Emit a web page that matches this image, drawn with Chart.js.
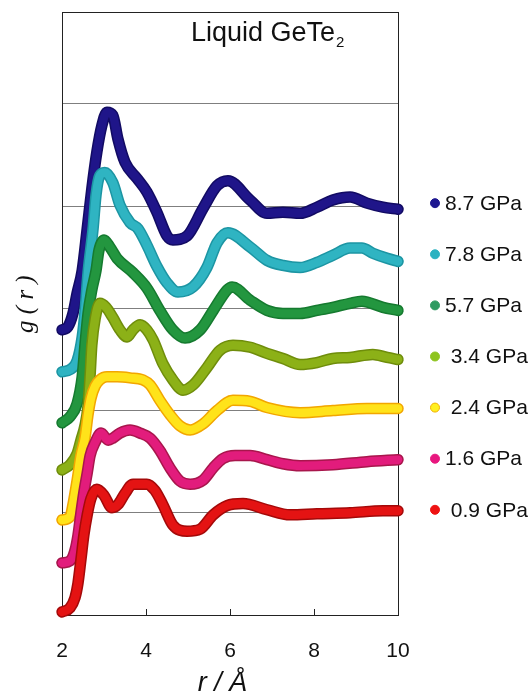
<!DOCTYPE html>
<html>
<head>
<meta charset="utf-8">
<script src="https://cdn.jsdelivr.net/npm/chart.js@4.4.0/dist/chart.umd.min.js"></script>
<style>
html,body{margin:0;padding:0;background:#fff;}
#wrap{width:529px;height:693px;position:relative;}
</style>
</head>
<body>
<div id="wrap"><canvas id="c" width="529" height="693"></canvas></div>
<script>
// ---------------- data ----------------
const seriesLabels = ['8.7 GPa', '7.8 GPa', '5.7 GPa', ' 3.4 GPa', ' 2.4 GPa', '1.6 GPa', ' 0.9 GPa'];
// vertical shift applied to each curve in the figure
const offsets = [3.0, 2.5, 2.0, 1.5, 1.0, 0.5, 0.0];
const xTicks = [2, 4, 6, 8, 10];
const yGridValues = [0, 1, 2, 3, 4, 5, 5.9];
const titleMain = 'Liquid GeTe';
const titleSub = '2';

// 8.7 GPa
const r_87 = [2.00,2.14,2.26,2.36,2.48,2.60,2.71,2.83,2.95,3.07,3.21,3.33,3.50,3.79,4.02,4.26,4.50,4.64,4.98,5.36,5.69,5.95,6.48,6.88,7.26,7.67,8.07,8.45,8.86,9.26,9.64,10.00];
const g_87 = [-0.21,-0.18,-0.05,0.15,0.37,0.78,1.17,1.53,1.79,1.92,1.89,1.66,1.43,1.27,1.14,0.94,0.71,0.67,0.71,0.98,1.20,1.25,1.06,0.93,0.94,0.93,0.99,1.06,1.09,1.03,0.99,0.97];
// 7.8 GPa
const r_78 = [2.00,2.19,2.36,2.48,2.55,2.62,2.74,2.81,2.90,3.02,3.21,3.38,3.62,3.81,4.02,4.26,4.50,4.76,5.12,5.45,5.69,5.95,6.48,6.88,7.26,7.67,8.07,8.45,8.86,9.14,9.40,9.74,10.00];
const g_78 = [-0.12,-0.10,-0.01,0.22,0.48,0.85,1.28,1.61,1.80,1.83,1.73,1.51,1.34,1.28,1.12,0.91,0.75,0.66,0.71,0.90,1.14,1.24,1.10,0.97,0.92,0.90,0.95,1.02,1.09,1.09,1.04,0.99,0.96];
// 5.7 GPa
const r_57 = [2.00,2.19,2.36,2.48,2.55,2.62,2.71,2.81,2.88,3.00,3.14,3.31,3.69,4.02,4.33,4.64,4.93,5.29,5.60,5.93,6.05,6.48,6.88,7.26,7.67,8.07,8.45,8.86,9.14,9.64,10.00];
const g_57 = [-0.12,-0.06,0.07,0.33,0.66,0.95,1.18,1.37,1.57,1.67,1.60,1.49,1.35,1.20,0.98,0.79,0.71,0.79,0.98,1.18,1.21,1.08,0.98,0.95,0.95,0.98,1.01,1.05,1.07,1.01,0.98];
// 3.4 GPa
const r_34 = [2.00,2.19,2.36,2.45,2.55,2.62,2.67,2.71,2.79,2.90,3.05,3.21,3.38,3.55,3.69,3.86,4.02,4.17,4.40,4.64,4.88,5.12,5.45,5.76,6.07,6.48,6.88,7.26,7.67,8.07,8.45,8.86,9.40,9.74,10.00];
const g_34 = [-0.08,-0.03,0.08,0.21,0.36,0.55,0.85,1.14,1.40,1.55,1.51,1.41,1.29,1.22,1.29,1.34,1.29,1.19,0.96,0.80,0.70,0.75,0.92,1.09,1.14,1.12,1.06,1.01,0.95,0.97,1.01,1.02,1.05,1.02,1.00];
// 2.4 GPa
const r_24 = [2.00,2.19,2.26,2.36,2.45,2.55,2.62,2.69,2.79,2.90,3.07,3.31,3.62,3.93,4.10,4.33,4.57,4.81,5.05,5.36,5.69,6.07,6.48,6.88,7.67,8.45,9.26,10.00];
const g_24 = [-0.07,-0.04,0.08,0.32,0.56,0.74,0.96,1.12,1.24,1.30,1.33,1.33,1.32,1.30,1.25,1.10,0.96,0.85,0.81,0.87,1.00,1.10,1.09,1.03,0.98,1.00,1.02,1.02];
// 1.6 GPa
const r_16 = [2.00,2.19,2.31,2.38,2.45,2.52,2.60,2.67,2.79,2.93,3.10,3.21,3.38,3.62,3.86,4.10,4.33,4.57,4.81,5.05,5.36,5.60,5.83,6.12,6.48,6.88,7.26,7.67,8.45,9.26,10.00];
const g_16 = [0.01,0.03,0.135,0.28,0.50,0.70,0.89,1.06,1.19,1.28,1.21,1.23,1.28,1.31,1.28,1.23,1.11,0.94,0.81,0.78,0.82,0.94,1.03,1.06,1.06,1.02,0.98,0.96,0.97,1.00,1.02];
// 0.9 GPa
const r_09 = [2.00,2.19,2.31,2.38,2.45,2.52,2.60,2.69,2.83,3.00,3.19,3.33,3.50,3.69,4.02,4.21,4.40,4.64,4.98,5.29,5.60,5.93,6.31,6.88,7.43,8.07,8.86,9.64,10.00];
const g_09 = [0.03,0.07,0.17,0.31,0.54,0.78,0.98,1.14,1.23,1.17,1.05,1.08,1.19,1.28,1.28,1.22,1.08,0.88,0.82,0.84,0.98,1.07,1.09,1.03,0.98,0.99,1.00,1.02,1.02];

const seriesR = [r_87, r_78, r_57, r_34, r_24, r_16, r_09];
const seriesG = [g_87, g_78, g_57, g_34, g_24, g_16, g_09];

// ---------------- styles ----------------
const fillColors  = ['#1f1589', '#2fb4c2', '#23963f', '#8cb117', '#ffe31a', '#e21c7c', '#e41313'];
const edgeColors  = ['#120b63', '#1c95a3', '#157a2f', '#6f8d0b', '#f2a600', '#a8164c', '#a40909'];
const legendColors = ['#1d1690', '#2cb2c1', '#2f9b62', '#8ec41f', '#fff020', '#e8177f', '#ee1212'];
const legendEdges  = ['#1d1690', '#2cb2c1', '#2f9b62', '#8ec41f', '#f0b000', '#e8177f', '#ee1212'];

const SANS = '"Liberation Sans", Arial, Helvetica, sans-serif';
const SERIF = '"Liberation Serif", "Times New Roman", serif';

const datasets = [];
seriesR.forEach((rArr, i) => {
  const pts = rArr.map((r, k) => ({x: r, y: seriesG[i][k] + offsets[i]}));
  const base = {
    data: pts, showLine: true, pointRadius: 0, pointHoverRadius: 0,
    cubicInterpolationMode: 'monotone', clip: false,
    borderCapStyle: 'round', borderJoinStyle: 'round', fill: false
  };
  datasets.push(Object.assign({}, base, {label: seriesLabels[i] + ' edge', borderColor: edgeColors[i], borderWidth: 11.5, order: 40 - 2 * i}));
  datasets.push(Object.assign({}, base, {label: seriesLabels[i], borderColor: fillColors[i], borderWidth: 8.5, order: 39 - 2 * i}));
});

const framePlugin = {
  id: 'framePlugin',
  beforeDatasetsDraw(chart) {
    const {ctx, chartArea: a, scales: {x}} = chart;
    ctx.save();
    ctx.strokeStyle = '#222';
    ctx.lineWidth = 1;
    xTicks.forEach(v => {
      if (v === xTicks[0] || v === xTicks[xTicks.length - 1]) return;
      const px = Math.round(x.getPixelForValue(v)) + 0.5;
      ctx.beginPath(); ctx.moveTo(px, a.bottom); ctx.lineTo(px, a.bottom - 6); ctx.stroke();
    });
    ctx.restore();
  },
  afterDraw(chart) {
    const {ctx, chartArea: a, scales: {y}} = chart;
    ctx.save();
    // title inside the plot
    ctx.fillStyle = '#111';
    ctx.textAlign = 'left';
    ctx.textBaseline = 'alphabetic';
    ctx.font = '27px ' + SANS;
    const tx = a.left + 129, ty = a.top + 29;
    ctx.fillText(titleMain, tx, ty);
    const w = ctx.measureText(titleMain).width;
    ctx.font = '15px ' + SANS;
    ctx.fillText(titleSub, tx + w + 1, ty + 6);
    // legend beside the curve ends
    ctx.font = '21px ' + SANS;
    ctx.textBaseline = 'middle';
    seriesLabels.forEach((lab, i) => {
      const yy = y.getPixelForValue(offsets[i] + 1) - 3;
      ctx.beginPath();
      ctx.arc(a.right + 37, yy, 4.5, 0, Math.PI * 2);
      ctx.fillStyle = legendColors[i];
      ctx.fill();
      ctx.strokeStyle = legendEdges[i];
      ctx.lineWidth = 1;
      ctx.stroke();
      ctx.fillStyle = '#111';
      ctx.fillText(lab, a.right + 47, yy + 1);
    });
    ctx.restore();
  }
};

new Chart(document.getElementById('c'), {
  type: 'scatter',
  data: {datasets},
  options: {
    responsive: false,
    animation: false,
    devicePixelRatio: 1,
    layout: {padding: {left: 5, right: 131, top: 12, bottom: 0}},
    plugins: {legend: {display: false}, tooltip: {enabled: false}, title: {display: false}},
    scales: {
      x: {
        type: 'linear', min: 2, max: 10,
        afterBuildTicks: axis => { axis.ticks = xTicks.map(v => ({value: v})); },
        afterFit: scale => { scale.height = 78; },
        ticks: {color: '#111', font: {family: SANS, size: 21}, padding: 24, maxRotation: 0},
        grid: {drawTicks: false, color: c => (c.tick && c.tick.value === 10) ? '#222' : 'rgba(0,0,0,0)', lineWidth: 1},
        border: {display: true, color: '#222', width: 1},
        title: {display: true, text: 'r / Å  ', color: '#111', font: {family: SANS, size: 27, style: 'italic'}, padding: {top: 0, bottom: -7}}
      },
      y: {
        type: 'linear', min: 0, max: 5.9,
        afterBuildTicks: axis => { axis.ticks = yGridValues.map(v => ({value: v})); },
        afterFit: scale => { scale.width = 57; },
        ticks: {display: false},
        grid: {
          drawTicks: false, lineWidth: 1,
          color: c => {
            const v = c.tick ? c.tick.value : 0;
            if (v === yGridValues[yGridValues.length - 1]) return '#222';
            if (v > 0) return '#7f7f7f';
            return 'rgba(0,0,0,0)';
          }
        },
        border: {display: true, color: '#222', width: 1},
        title: {display: true, text: '   g ( r )', color: '#111', font: {family: SERIF, size: 25, style: 'italic'}, padding: {top: 6, bottom: 21}}
      }
    }
  },
  plugins: [framePlugin]
});
</script>
</body>
</html>
